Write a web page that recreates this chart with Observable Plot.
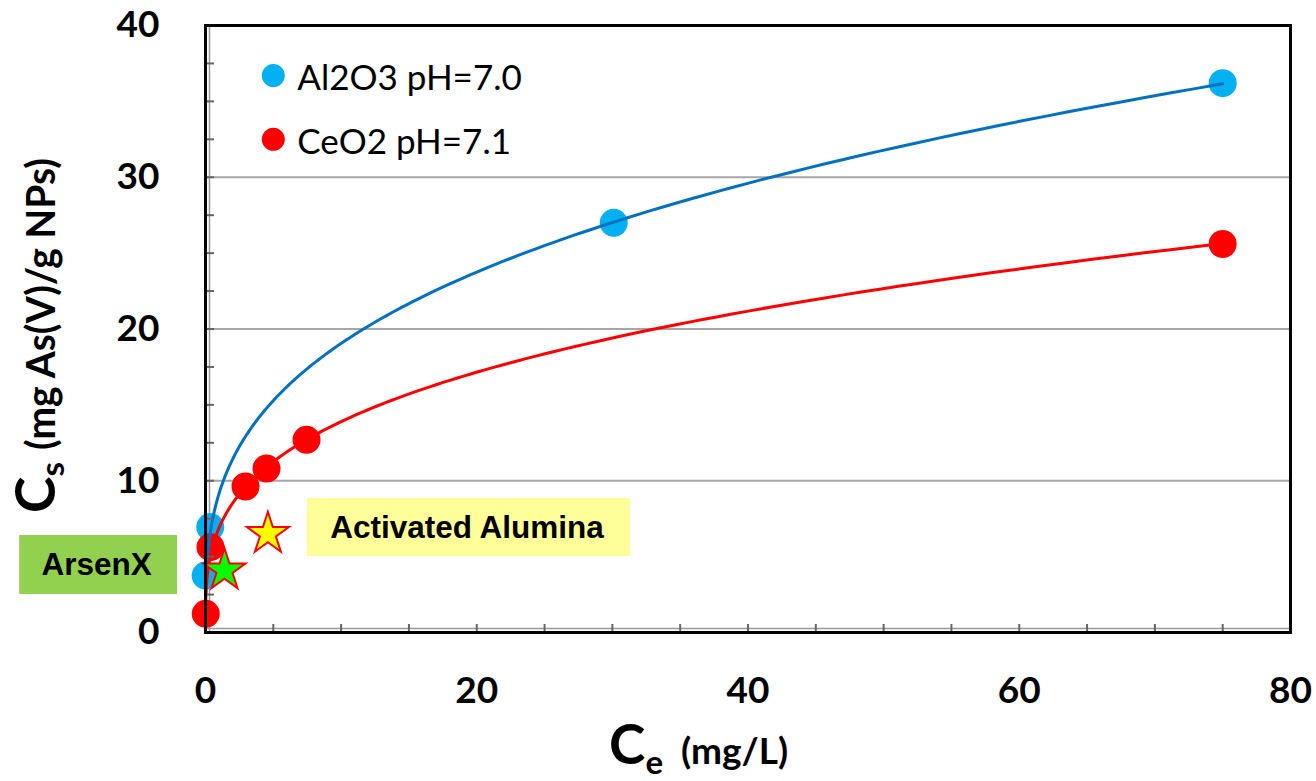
<!DOCTYPE html>
<html>
<head>
<meta charset="utf-8">
<script src="https://cdn.jsdelivr.net/npm/d3@7"></script>
<script src="https://cdn.jsdelivr.net/npm/@observablehq/plot@0.6"></script>
<style>
  html, body { margin: 0; padding: 0; background: #fff; }
  #chart svg { display: block; }
</style>
</head>
<body>
<div id="chart"></div>
<script>
// Arsenate adsorption isotherms on metal-oxide nanoparticles

const seriesNames = ["Al2O3 pH=7.0", "CeO2 pH=7.1"];
const seriesColors = ["#00B0F0", "#FF0000"];
const trendColors = ["#0070C0", "#FF0000"];

// equilibrium concentration Ce (mg/L) and sorbed amount Cs (mg As(V)/g NPs)
const al2o3Ce = [0.01, 0.35, 30.1, 75.0];
const al2o3Cs = [3.75, 6.95, 27.0, 36.2];
const ceo2Ce = [0.02, 0.37, 2.95, 4.5, 7.45, 75.0];
const ceo2Cs = [1.23, 5.62, 9.62, 10.8, 12.7, 25.6];

// Freundlich trend lines, Cs = K * Ce^n
const al2o3Fit = { K: 9.16, n: 0.318 };
const ceo2Fit = { K: 6.90, n: 0.304 };
const fitRange = [0.02, 75];

// commercial sorbents shown for comparison
const sorbentNames = ["ArsenX", "Activated Alumina"];
const sorbentCe = [1.4, 4.6];
const sorbentCs = [4.1, 6.5];
const sorbentFill = ["#00FF00", "#FFFF00"];
const sorbentBoxFill = ["#92D050", "#FFFF99"];
// label boxes in axis units: [Ce from, Ce to, Cs from, Cs to]
const sorbentBoxes = [[-13.7, -2.06, 2.5, 6.39], [7.52, 31.34, 5.01, 8.83]];

// axes
const xTickLabels = [0, 20, 40, 60, 80];
const yTickLabels = [0, 10, 20, 30, 40];
const xMinorTicks = [0, 5, 10, 15, 20, 25, 30, 35, 40, 45, 50, 55, 60, 65, 70, 75, 80];
const yMinorTicks = [0, 2.5, 5, 7.5, 10, 12.5, 15, 17.5, 20, 22.5, 25, 27.5, 30, 32.5, 35, 37.5, 40];
const gridLines = [10, 20, 30];

// legend anchor in axis units
const legendCe = 5.0;
const legendCs = [36.7, 32.5];

// ---- tables built from the arrays above ----
const points = [
  ...al2o3Ce.map((x, i) => ({ x, y: al2o3Cs[i], fill: seriesColors[0] })),
  ...ceo2Ce.map((x, i) => ({ x, y: ceo2Cs[i], fill: seriesColors[1] }))
];

function trendCurve(fit, color) {
  const steps = 300;
  const [a, b] = fitRange;
  return d3.range(steps + 1).map(i => {
    const x = a * Math.pow(b / a, i / steps);
    return { x, y: fit.K * Math.pow(x, fit.n), stroke: color };
  });
}
const curves = [trendCurve(al2o3Fit, trendColors[0]), trendCurve(ceo2Fit, trendColors[1])];

const sorbents = sorbentNames.map((name, i) => ({
  name, x: sorbentCe[i], y: sorbentCs[i], fill: sorbentFill[i],
  x1: sorbentBoxes[i][0], x2: sorbentBoxes[i][1], y1: sorbentBoxes[i][2], y2: sorbentBoxes[i][3],
  box: sorbentBoxFill[i]
}));

const legend = seriesNames.map((name, i) => ({ name, x: legendCe, y: legendCs[i], fill: seriesColors[i] }));

const tickFont = { fontSize: 37, fontWeight: "bold", fontFamily: "Lato, sans-serif", fill: "#000" };

const plot = Plot.plot({
  width: 1316,
  height: 781,
  marginLeft: 205,
  marginRight: 26,
  marginTop: 25,
  marginBottom: 149,
  x: { domain: [0, 80] },
  y: { domain: [0, 40] },
  color: { type: "identity" },
  style: { fontFamily: "Lato, sans-serif", background: "#fff", color: "#000", overflow: "visible" },
  marks: [
    Plot.ruleY(gridLines, { stroke: "#a6a6a6", strokeWidth: 2 }),
    // inner shadow line along the left and bottom axes
    Plot.ruleX([0], { stroke: "#9a9a9a", strokeWidth: 1.5, dx: 4 }),
    Plot.ruleY([0], { stroke: "#9a9a9a", strokeWidth: 1.5, dy: -4 }),
    // label boxes
    Plot.rect(sorbents, { x1: "x1", x2: "x2", y1: "y1", y2: "y2", fill: "box" }),
    Plot.text(sorbents, {
      x: d => (d.x1 + d.x2) / 2, y: d => (d.y1 + d.y2) / 2, text: "name", dx: -2,
      fontFamily: "'Liberation Sans', Arial, sans-serif", fontWeight: "bold", fontSize: 31.5, fill: "#000"
    }),
    // measured isotherm points
    Plot.dot(points, { x: "x", y: "y", r: 14, fill: "fill" }),
    // trend lines
    ...curves.map(c => Plot.line(c, { x: "x", y: "y", stroke: "stroke", strokeWidth: 3, curve: "linear" })),
    // commercial sorbents
    Plot.dot(sorbents, { x: "x", y: "y", symbol: "star", r: 13.2, fill: "fill", stroke: "#FF0000", strokeWidth: 2 }),
    // legend
    Plot.dot(legend, { x: "x", y: "y", r: 11.5, fill: "fill" }),
    Plot.text(legend, { x: "x", y: "y", text: "name", dx: 24, dy: 3, textAnchor: "start", fontSize: 35, fill: "#000" }),
    // axes: inward minor ticks and labels
    Plot.axisX({ ticks: xMinorTicks, tickSize: -8, tickFormat: () => "", stroke: "#666", strokeWidth: 2, label: null }),
    Plot.axisY({ ticks: yMinorTicks, tickSize: -9, tickFormat: () => "", stroke: "#666", strokeWidth: 2, label: null }),
    Plot.axisX({ ticks: xTickLabels, tickSize: 0, tickPadding: 44, label: null, ...tickFont }),
    Plot.axisY({ ticks: yTickLabels, tickSize: 0, tickPadding: 46, label: null, ...tickFont }),
    Plot.frame({ stroke: "#000", strokeWidth: 3 })
  ]
});

// axis titles with subscripts
const svg = d3.select(plot);

const xTitle = svg.append("text")
  .attr("x", 609).attr("y", 764).attr("text-anchor", "start")
  .attr("font-family", "Lato, sans-serif").attr("font-weight", "bold").attr("fill", "#000");
xTitle.append("tspan").attr("font-size", 55).text("C");
xTitle.append("tspan").attr("font-size", 33).attr("dy", 10).text("e");
xTitle.append("tspan").attr("font-size", 37).attr("dy", -10).attr("dx", 18).text("(mg/L)");

const yTitle = svg.append("text")
  .attr("transform", "translate(55,513) rotate(-90)").attr("text-anchor", "start")
  .attr("font-family", "Lato, sans-serif").attr("font-weight", "bold").attr("fill", "#000");
yTitle.append("tspan").attr("font-size", 55).text("C");
yTitle.append("tspan").attr("font-size", 33).attr("dy", 9).text("s");
yTitle.append("tspan").attr("font-size", 40).attr("dy", -9).attr("dx", 12)
  .attr("textLength", 292).attr("lengthAdjust", "spacingAndGlyphs").text("(mg As(V)/g NPs)");

document.getElementById("chart").appendChild(plot);
</script>
</body>
</html>
